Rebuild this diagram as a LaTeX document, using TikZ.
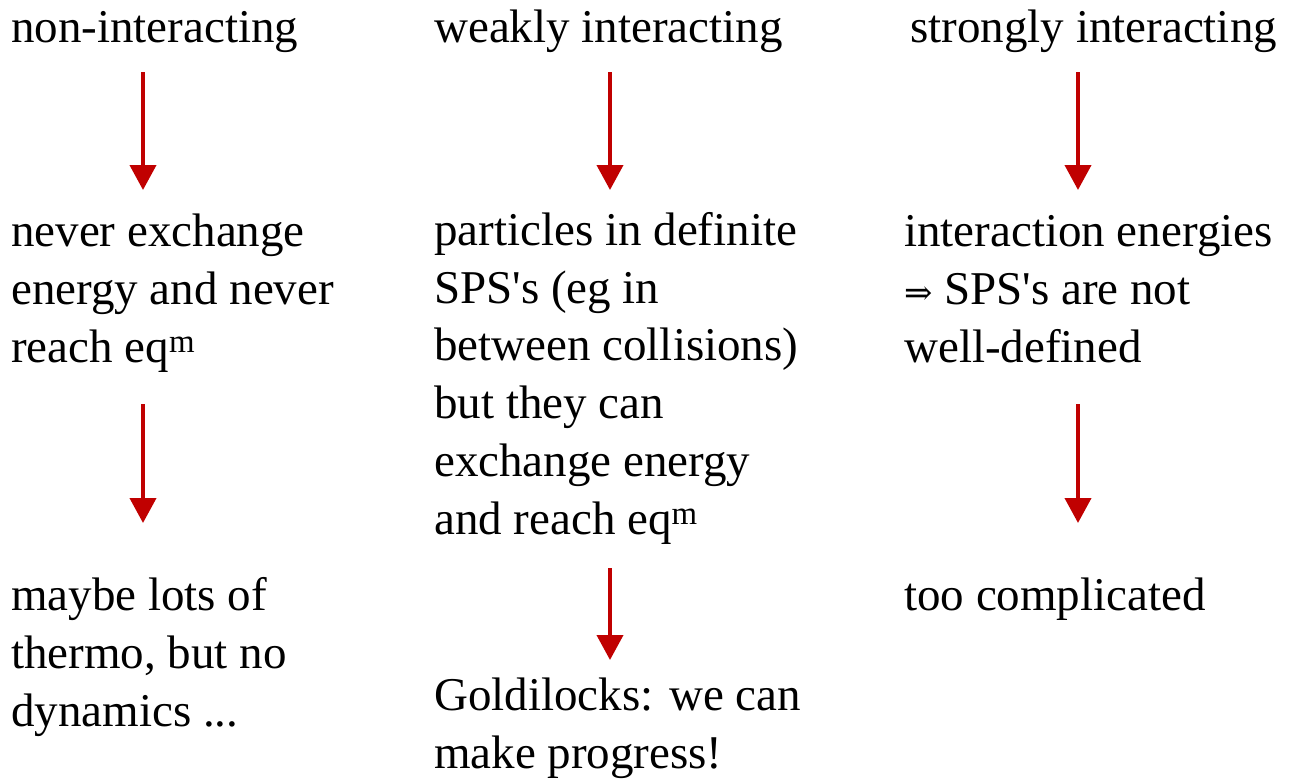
\documentclass[tikz,border=0pt]{standalone}
\usepackage{fontspec}
\setmainfont{Liberation Serif}
\newfontfamily\arrowfont{DejaVu Serif}[Scale=0.72]
\usetikzlibrary{arrows.meta}
\definecolor{arrred}{HTML}{C00000}
\tikzset{
  txt/.style={anchor=base west, inner sep=0pt, align=left, font=\fontsize{47}{57.7}\selectfont},
  arr/.style={draw=arrred, line width=4pt, -{Triangle[width=26pt,length=25pt]}, arrred}
}
\newcommand{\implarrow}{{\arrowfont ⇒}}
\newcommand{\sq}{\textquotesingle}
\begin{document}
\begin{tikzpicture}[x=1pt,y=-1pt]
\useasboundingbox (0,0) rectangle (1298,779);
% headings (base = last line)
\node[txt] (h1) at (11,42) {non-interacting};
\node[txt] (h2) at (434,42) {weakly interacting};
\node[txt] (h3) at (910,42) {strongly interacting};
% second row
\node[txt] (b1) at (11,362) {never exchange\\energy and never\\reach eq\textsuperscript{m}};
\node[txt] (b2) at (434,534) {particles in definite\\SPS\sq s (eg in\\between collisions)\\but they can\\exchange energy\\and reach eq\textsuperscript{m}};
\node[txt] (b3) at (904,362) {interaction energies\\\implarrow{} SPS\sq s are not\\well-defined};
% third row
\node[txt] (c1) at (11,726) {maybe lots of\\thermo, but no\\dynamics ...};
\node[txt] (c2) at (434,768) {Goldilocks: we can\\make progress!};
\node[txt] (c3) at (904,610) {too complicated};
% arrow end points
\coordinate (a1s) at (143,72);  \coordinate (a1e) at (143,190);
\coordinate (a2s) at (610,72);  \coordinate (a2e) at (610,190);
\coordinate (a3s) at (1078,72); \coordinate (a3e) at (1078,190);
\coordinate (a4s) at (143,404); \coordinate (a4e) at (143,523);
\coordinate (a5s) at (610,568); \coordinate (a5e) at (610,660);
\coordinate (a6s) at (1078,404);\coordinate (a6e) at (1078,523);
\draw[arr] (a1s) -- (a1e);
\draw[arr] (a2s) -- (a2e);
\draw[arr] (a3s) -- (a3e);
\draw[arr] (a4s) -- (a4e);
\draw[arr] (a5s) -- (a5e);
\draw[arr] (a6s) -- (a6e);
\end{tikzpicture}
\end{document}
